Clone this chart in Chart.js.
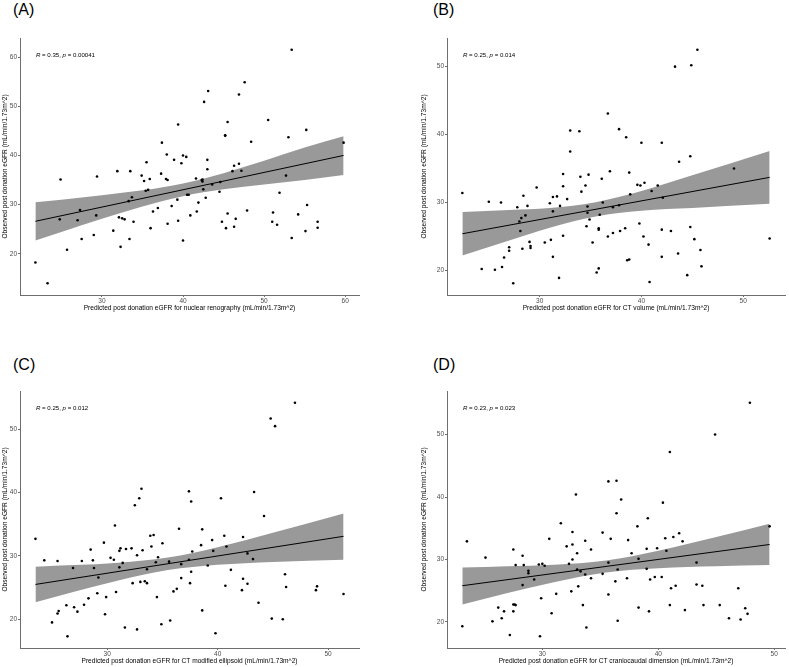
<!DOCTYPE html>
<html><head><meta charset="utf-8">
<script src="https://cdn.jsdelivr.net/npm/chart.js@4.4.0/dist/chart.umd.min.js"></script>
<style>
html,body{margin:0;padding:0;background:#fff;}
body{width:789px;height:667px;position:relative;overflow:hidden;font-family:"Liberation Sans",Arial,sans-serif;}
canvas{position:absolute;}
.lbl{position:absolute;font-size:16px;line-height:16px;color:#000;font-family:"Liberation Sans",Arial,sans-serif;}
</style></head><body>
<div class="lbl" style="left:13px;top:2px">(A)</div>
<div class="lbl" style="left:433px;top:2px">(B)</div>
<div class="lbl" style="left:13px;top:357px">(C)</div>
<div class="lbl" style="left:433px;top:357px">(D)</div>
<canvas id="cA" width="390" height="320" style="left:0px;top:0px"></canvas>
<canvas id="cB" width="370" height="320" style="left:419px;top:0px"></canvas>
<canvas id="cC" width="390" height="337" style="left:0px;top:330px"></canvas>
<canvas id="cD" width="370" height="337" style="left:419px;top:330px"></canvas>
<script>
// ---------- data ----------
const aX = [21.8,23.3,24.9,24.8,25.7,27.0,27.3,27.5,29.0,29.3,29.4,31.4,31.9,32.1,32.3,32.5,32.8,33.4,33.3,33.5,33.7,33.9,34.9,35.2,35.4,35.5,35.7,35.9,36.0,36.3,36.9,37.3,37.4,37.9,38.0,38.1,38.1,38.6,38.9,39.3,39.4,39.4,39.8,40.0,40.0,40.4,40.5,40.7,40.9,41.6,41.7,41.9,42.3,42.4,42.4,42.5,42.6,42.8,43.0,43.0,43.1,43.6,44.5,44.6,44.8,45.2,45.2,45.3,45.5,45.5,46.1,46.3,46.3,46.5,46.9,46.9,47.2,47.6,47.9,48.4,50.5,51.1,51.0,51.6,51.9,52.7,53.0,53.4,53.4,54.2,55.1,55.2,55.3,56.6,56.6,59.8];
const aY = [18.2,14.0,35.1,27.0,20.8,26.8,28.9,23.0,23.8,27.8,35.7,24.7,36.8,27.4,21.4,27.2,27.0,23.0,30.7,36.8,31.5,26.5,35.9,34.8,32.8,38.6,33.0,35.2,25.2,28.6,29.3,36.3,42.6,35.2,40.2,35.0,26.1,29.7,39.1,31.0,46.3,26.7,38.4,40.0,22.7,39.7,32.0,32.0,27.8,35.3,28.6,30.4,35.0,34.7,35.1,33.1,50.9,31.4,39.1,37.2,53.1,34.1,32.6,34.6,26.5,44.1,44.0,25.2,46.8,28.2,36.8,25.5,37.9,27.1,38.3,52.4,36.9,54.9,28.8,42.8,47.2,28.4,26.5,25.9,32.4,35.9,43.7,61.5,23.2,28.0,24.6,45.2,29.9,25.3,26.5,42.6];

const bX = [22.4,24.3,25.0,25.6,26.2,26.3,26.5,27.0,27.0,27.4,27.8,28.0,28.1,28.2,28.3,28.4,28.6,28.8,29.0,29.1,29.1,29.7,30.5,31.0,31.1,31.3,31.3,31.3,31.7,31.9,32.0,32.3,32.3,32.3,32.7,33.0,33.0,33.9,34.0,34.1,34.5,34.6,34.7,34.8,34.7,34.9,35.2,35.6,35.8,35.8,35.8,35.9,36.1,36.2,36.7,36.7,36.9,37.2,37.2,37.8,37.8,37.9,38.4,38.5,38.6,38.8,38.8,38.9,39.6,39.8,39.9,40.0,40.2,40.3,40.7,40.8,41.0,41.6,42.0,42.0,42.0,42.1,42.9,43.3,43.6,43.7,44.5,44.8,44.8,44.9,45.2,45.5,45.8,45.9,49.1,52.6];
const bY = [31.4,20.2,30.1,20.1,30.0,20.5,21.9,23.4,22.9,18.1,29.3,27.2,25.8,27.7,23.2,31.0,28.1,29.5,24.2,23.3,23.6,32.2,24.1,29.9,24.5,28.7,30.8,22.0,30.9,18.9,29.5,32.4,34.2,25.1,30.5,40.6,37.5,40.5,33.8,31.6,32.5,26.5,29.4,34.1,28.5,27.5,24.1,19.7,26.0,26.2,20.3,28.2,33.5,30.0,43.1,25.0,34.6,29.3,25.5,40.8,29.6,25.8,26.2,39.6,21.5,34.4,21.6,31.2,32.6,26.9,32.5,38.8,25.0,32.9,23.8,18.3,31.7,32.5,38.8,26.0,22.0,30.7,25.8,50.0,22.5,36.0,19.3,36.8,26.4,50.2,24.6,52.5,23.0,20.6,35.0,24.7];

const cX = [23.5,24.3,25.0,25.5,25.5,25.6,26.3,26.4,26.9,27.0,27.3,27.7,27.9,28.3,28.5,28.7,28.8,29.1,29.2,29.7,29.8,29.9,30.3,30.6,30.7,30.8,31.1,31.1,31.2,31.4,31.6,31.7,32.2,32.3,32.5,32.7,32.7,32.9,33.0,33.1,33.2,33.4,33.6,33.6,33.9,34.0,34.2,34.4,34.5,34.6,34.9,35.0,35.6,35.7,36.0,36.3,36.5,36.7,36.7,37.4,37.4,37.5,37.6,37.6,37.7,38.5,38.6,38.6,39.1,39.5,39.6,39.8,40.3,40.6,40.7,40.8,41.2,42.2,42.3,42.3,42.7,42.7,43.2,43.3,43.7,44.2,44.8,44.9,45.2,45.9,46.1,46.2,47.0,48.9,49.0,51.4];
const cY = [32.7,29.3,19.5,29.2,20.9,21.3,22.2,17.3,28.1,21.9,21.2,29.2,22.3,23.3,31.0,29.3,28.1,24.1,26.6,32.1,20.8,23.5,29.7,29.4,34.8,24.3,30.8,28.2,31.2,28.9,18.7,31.1,31.2,25.7,38.0,30.1,18.4,39.1,25.9,40.6,30.9,26.0,25.7,27.9,33.2,31.5,33.3,29.0,23.5,29.8,19.2,32.0,29.1,19.8,24.4,24.8,34.3,28.7,26.5,40.2,29.4,25.7,38.6,27.5,30.7,31.7,21.4,34.2,28.5,32.5,30.8,17.8,39.1,33.2,25.3,31.5,27.8,24.6,33.0,26.4,25.6,30.4,29.5,40.1,22.6,36.3,51.7,20.1,50.5,20.0,27.1,25.1,54.2,24.6,25.2,24.0];

const dX = [23.1,23.5,25.1,25.7,26.2,26.5,26.7,27.2,27.5,27.5,27.5,27.6,27.7,27.7,28.3,28.3,28.4,28.8,28.8,29.3,29.7,29.8,29.9,30.0,30.2,30.6,30.8,31.2,31.6,32.1,32.3,32.5,32.6,32.6,32.6,32.9,33.0,33.0,33.1,33.3,33.5,33.7,33.7,33.8,34.2,34.2,35.2,35.2,35.7,35.7,35.7,35.9,36.3,36.4,36.4,36.5,36.5,36.8,37.3,37.4,37.7,38.2,38.3,38.3,39.0,39.0,39.1,39.2,39.3,39.7,39.9,40.3,40.4,40.6,40.7,41.0,41.0,41.1,41.3,41.5,41.8,42.1,42.3,43.3,43.3,43.8,43.9,44.9,45.3,46.1,46.9,47.1,47.5,47.7,47.9,49.6];
const dY = [19.3,32.9,30.3,20.1,22.3,20.6,21.7,17.9,21.7,31.6,22.8,22.8,22.7,29.1,25.9,30.6,29.1,28.2,27.8,26.8,29.2,17.7,23.8,29.3,29.0,33.3,21.4,24.5,35.8,32.1,29.3,24.9,34.4,32.4,30.0,40.4,31.0,28.4,25.7,28.1,22.7,33.0,27.6,19.1,31.6,27.0,34.3,27.7,24.4,42.5,29.5,33.3,26.5,42.6,37.4,28.4,20.2,39.6,27.0,33.1,31.0,35.3,22.3,30.1,31.7,28.5,36.6,21.7,26.8,27.2,31.8,27.2,39.1,33.4,31.4,22.7,47.2,25.4,33.6,25.8,34.2,32.9,21.9,29.5,26.0,25.8,22.7,50.0,22.7,20.6,25.4,20.4,22.2,21.3,55.1,35.3];

// fitted regression lines (end points)
const aFitX = [21.8, 59.8], aFitY = [26.6, 40.0];
const bFitX = [22.4, 52.6], bFitY = [25.4, 33.7];
const cFitX = [23.5, 51.4], cFitY = [25.5, 33.1];
const dFitX = [23.1, 49.6], dFitY = [25.8, 32.4];

// confidence band edges (read at several x positions)
const aBandX = [21.8,25,30,35,40,45,50,55,59.8];
const aBandUp = [30.5,31.0,31.9,32.9,34.3,36.4,38.9,41.6,43.9];
const aBandLo = [22.7,24.4,27.1,29.6,31.7,33.1,34.1,35.0,36.0];
const bBandX = [22.4,27,31,35.5,40,45,52.6];
const bBandUp = [28.6,28.9,29.2,30.05,31.7,34.0,37.6];
const bBandLo = [22.2,24.4,26.3,27.95,28.8,29.2,29.8];
const cBandX = [23.5,27,31,35.5,40,45,51.4];
const cBandUp = [28.3,28.55,28.94,29.76,31.39,33.65,36.7];
const cBandLo = [22.7,24.35,26.14,27.76,28.59,29.05,29.4];
const dBandX = [23.1,27,31,35.5,40,45,49.6];
const dBandUp = [28.7,28.91,29.15,29.83,31.39,33.58,35.7];
const dBandLo = [22.8,24.63,26.37,27.93,28.61,28.9,29.1];

// tick labels
const aXTicks = [30,40,50,60], aYTicks = [20,30,40,50,60];
const bXTicks = [30,40,50], bYTicks = [20,30,40,50];
const cXTicks = [30,40,50], cYTicks = [20,30,40,50];
const dXTicks = [30,40,50], dYTicks = [20,30,40,50];

// correlation annotations
const rValues = ['0.35','0.25','0.25','0.23'];
const pValues = ['0.00041','0.014','0.012','0.023'];

// axis titles
const xTitles = [
  'Predicted post donation eGFR for nuclear renography (mL/min/1.73m^2)',
  'Predicted post donation eGFR for CT volume (mL/min/1.73m^2)',
  'Predicted post donation eGFR for CT modified ellipsoid (mL/min/1.73m^2)',
  'Predicted post donation eGFR for CT craniocaudal dimension (mL/min/1.73m^2)'
];
const yTitle = 'Observed post donation eGFR (mL/min/1.73m^2)';

// ---------- drawing ----------
const FONT = '"Liberation Sans", Arial, sans-serif';
function zip(xs, ys){ return xs.map((x,i)=>({x:x, y:ys[i]})); }

function annotPlugin(r, p){
  return {
    id:'annot',
    afterDraw(chart){
      const ctx = chart.ctx, ca = chart.chartArea;
      let x = ca.left + 16; const y = ca.top + 17;
      ctx.save();
      ctx.fillStyle = '#000';
      ctx.textBaseline = 'middle';
      ctx.textAlign = 'left';
      const parts = [['R',true],[' = '+r+', ',false],['p',true],[' = '+p,false]];
      for (const [t,it] of parts){
        ctx.font = (it?'italic ':'') + '6.1px ' + FONT;
        ctx.fillText(t, x, y);
        x += ctx.measureText(t).width;
      }
      ctx.restore();
    }
  };
}

function makeChart(id, xs, ys, fitX, fitY, bandX, bandUp, bandLo, xTicks, yTicks, xLim, yLim, xTitle, r, p, pad, yW){
  const axisColor = '#6e6e6e';
  new Chart(document.getElementById(id), {
    type:'scatter',
    data:{ datasets:[
      { data: zip(xs, ys), pointRadius:1.3, pointBackgroundColor:'#000', pointBorderWidth:0, showLine:false },
      { data: zip(fitX, fitY), showLine:true, borderColor:'#000', borderWidth:1, pointRadius:0, fill:false },
      { data: zip(bandX, bandUp), showLine:true, borderWidth:0, borderColor:'rgba(0,0,0,0)', pointRadius:0,
        cubicInterpolationMode:'monotone', fill:'+1', backgroundColor:'#999999' },
      { data: zip(bandX, bandLo), showLine:true, borderWidth:0, borderColor:'rgba(0,0,0,0)', pointRadius:0,
        cubicInterpolationMode:'monotone', fill:false }
    ]},
    options:{
      responsive:false, animation:false, devicePixelRatio:1,
      layout:{ padding: pad },
      plugins:{ legend:{display:false}, tooltip:{enabled:false} },
      scales:{
        x:{
          type:'linear', min:xLim[0], max:xLim[1],
          afterBuildTicks: s => { s.ticks = xTicks.map(v=>({value:v})); },
          afterFit: s => { s.height = 17; },
          grid:{ drawOnChartArea:false, drawTicks:true, tickLength:2, color:axisColor, lineWidth:1 },
          border:{ display:true, color:axisColor, width:1 },
          ticks:{ padding:0, color:'#4d4d4d', font:{family:FONT, size:6.5}, maxRotation:0, autoSkip:false },
          title:{ display:true, text:xTitle, color:'#000', font:{family:FONT, size:6.6}, padding:{top:0,bottom:0} }
        },
        y:{
          type:'linear', min:yLim[0], max:yLim[1],
          afterBuildTicks: s => { s.ticks = yTicks.map(v=>({value:v})); },
          afterFit: s => { s.width = yW; },
          grid:{ drawOnChartArea:false, drawTicks:true, tickLength:2, color:axisColor, lineWidth:1 },
          border:{ display:true, color:axisColor, width:1 },
          ticks:{ padding:1, color:'#4d4d4d', font:{family:FONT, size:6.5}, autoSkip:false },
          title:{ display:true, text:yTitle, color:'#000', font:{family:FONT, size:6.6}, padding:{top:1,bottom:0} }
        }
      }
    },
    plugins:[annotPlugin(r, p)]
  });
}

makeChart('cA', aX, aY, aFitX, aFitY, aBandX, aBandUp, aBandLo, aXTicks, aYTicks, [19.9,61.7], [11.6,63.9], xTitles[0], rValues[0], pValues[0], {left:0, top:38, right:31, bottom:8}, 20);
makeChart('cB', bX, bY, bFitX, bFitY, bBandX, bBandUp, bBandLo, bXTicks, bYTicks, [20.89,54.11], [16.38,54.22], xTitles[1], rValues[1], pValues[1], {left:0, top:38, right:2, bottom:8}, 28);
makeChart('cC', cX, cY, cFitX, cFitY, cBandX, cBandUp, cBandLo, cXTicks, cYTicks, [22.1,52.8], [15.46,56.05], xTitles[2], rValues[2], pValues[2], {left:0, top:61, right:31, bottom:2}, 20);
makeChart('cD', dX, dY, dFitX, dFitY, dBandX, dBandUp, dBandLo, dXTicks, dYTicks, [21.78,50.93], [15.83,56.97], xTitles[3], rValues[3], pValues[3], {left:0, top:61, right:2, bottom:2}, 28);
</script>
</body></html>
